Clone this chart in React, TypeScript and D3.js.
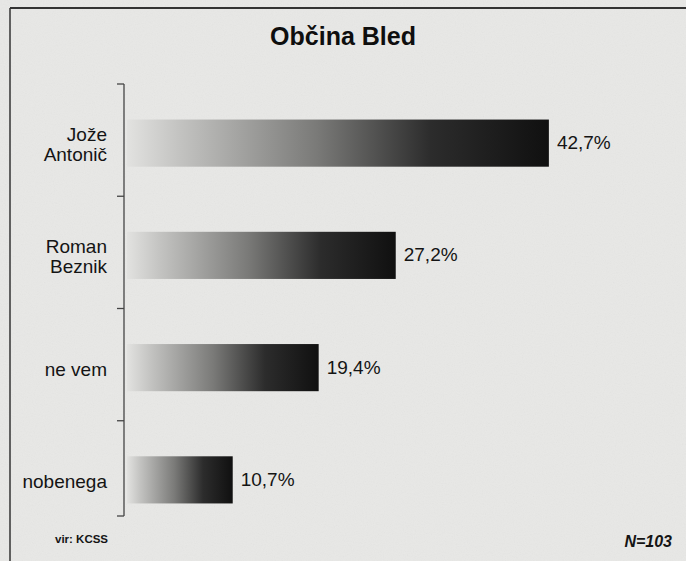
import React from "react";
import * as d3 from "d3";

// survey: Občina Bled
const categories = ["Jože Antonič", "Roman Beznik", "ne vem", "nobenega"];
const labelLines = [["Jože", "Antonič"], ["Roman", "Beznik"], ["ne vem"], ["nobenega"]];
const values = [42.7, 27.2, 19.4, 10.7];
const valueLabels = ["42,7%", "27,2%", "19,4%", "10,7%"];

const W = 686;
const H = 561;
const font = "'Liberation Sans', Arial, Helvetica, sans-serif";
const ink = "#141414";

export default function App() {
  const x = d3.scaleLinear().domain([0, 50]).range([127, 621]);
  const y = d3
    .scaleBand<string>()
    .domain(categories)
    .range([87, 536])
    .paddingInner(0.58)
    .paddingOuter(0.29);

  const axisX = 124;
  const axisTop = 84;
  const axisBottom = 516;
  // tick marks separating the categories
  const centers = categories.map((c) => (y(c) as number) + y.bandwidth() / 2);
  const sepTicks = [
    axisTop,
    ...d3.pairs(centers).map(([a, b]) => (a + b) / 2 - 3),
    axisBottom,
  ];

  return (
    <div style={{ position: "fixed", left: 0, top: 0 }}>
      <svg width={W} height={H} style={{ display: "block" }}>
        <defs>
          <linearGradient id="barGrad" x1="0" y1="0" x2="1" y2="0">
            <stop offset="0" stopColor="#e2e2e0" />
            <stop offset="0.12" stopColor="#c4c4c2" />
            <stop offset="0.45" stopColor="#7a7a78" />
            <stop offset="0.72" stopColor="#2c2c2c" />
            <stop offset="1" stopColor="#101010" />
          </linearGradient>
          <filter id="paper" x="0" y="0" width="100%" height="100%">
            <feTurbulence type="fractalNoise" baseFrequency="0.9" numOctaves="2" seed="3" />
            <feColorMatrix type="saturate" values="0" />
            <feComponentTransfer>
              <feFuncA type="linear" slope="0.08" />
            </feComponentTransfer>
          </filter>
        </defs>

        <rect width={W} height={H} fill="#e8e8e6" />
        <rect width={W} height={H} filter="url(#paper)" />

        {/* frame */}
        <line x1={10} y1={8} x2={W} y2={8} stroke="#333" strokeWidth={2} />
        <line x1={10} y1={8} x2={10} y2={H} stroke="#333" strokeWidth={1.5} />

        <text
          x={343}
          y={45}
          textAnchor="middle"
          fontFamily={font}
          fontWeight="bold"
          fontSize={25}
          fill="#0e0e0e"
        >
          Občina Bled
        </text>

        {/* axis */}
        <line x1={axisX} y1={axisTop} x2={axisX} y2={axisBottom} stroke="#444" strokeWidth={1.3} />
        {sepTicks.map((t, i) => (
          <line key={i} x1={axisX - 7} y1={t} x2={axisX} y2={t} stroke="#444" strokeWidth={1.3} />
        ))}

        {categories.map((c, i) => {
          const by = y(c) as number;
          const cy = by + y.bandwidth() / 2;
          const lines = labelLines[i];
          return (
            <g key={c}>
              <rect
                x={x(0)}
                y={by}
                width={x(values[i]) - x(0)}
                height={y.bandwidth()}
                fill="url(#barGrad)"
              />
              <text
                x={x(values[i]) + 8}
                y={cy + 6}
                fontFamily={font}
                fontSize={19}
                fill={ink}
              >
                {valueLabels[i]}
              </text>
              <text
                x={107}
                textAnchor="end"
                fontFamily={font}
                fontSize={19}
                fill={ink}
              >
                {lines.map((l, j) => (
                  <tspan key={j} x={107} y={cy + 8 + (j - (lines.length - 1) / 2) * 20}>
                    {l}
                  </tspan>
                ))}
              </text>
            </g>
          );
        })}

        <text x={55} y={543} fontFamily={font} fontWeight="bold" fontSize={11.5} fill={ink}>
          vir: KCSS
        </text>
        <text
          x={672}
          y={547}
          textAnchor="end"
          fontFamily={font}
          fontWeight="bold"
          fontStyle="italic"
          fontSize={16}
          fill={ink}
        >
          N=103
        </text>
      </svg>
    </div>
  );
}
